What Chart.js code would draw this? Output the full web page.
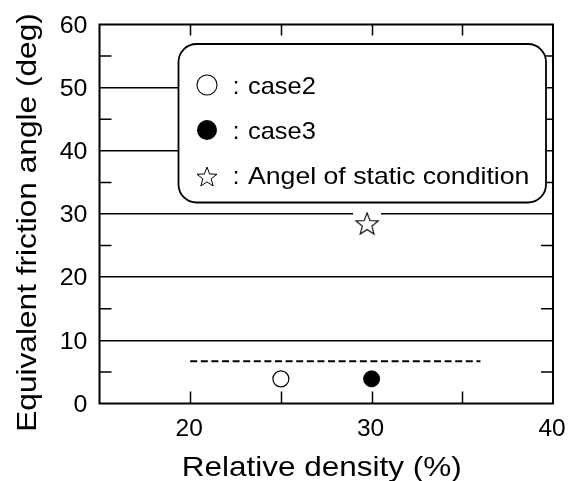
<!DOCTYPE html>
<html>
<head>
<meta charset="utf-8">
<script src="https://cdn.jsdelivr.net/npm/chart.js@4/dist/chart.umd.min.js"></script>
<style>
html,body{margin:0;padding:0;background:#fff;}
#wrap{width:579px;height:481px;}
</style>
</head>
<body>
<div id="wrap"><canvas id="c" width="579" height="481"></canvas></div>
<script>
// ---- data ----
const case2Points = [{x: 25, y: 3.9}];
const case3Points = [{x: 30, y: 3.9}];
const staticPoints = [{x: 29.75, y: 28.4}];
const dashedLine = [{x: 20, y: 6.7}, {x: 36, y: 6.7}];
const seriesLabels = ['case2', 'case3', 'Angel of static condition'];
const xTickLabels = [20, 30, 40];
const yTickLabels = [0, 10, 20, 30, 40, 50, 60];
const xMinorTicks = [20, 25, 30, 35];
const yMinorTicks = [5, 15, 25, 35, 45, 55];
const xTitle = 'Relative density (%)';
const yTitle = 'Equivalent friction angle (deg)';

const FONT = "'Liberation Sans', Arial, Helvetica, sans-serif";

function starPath(ctx, cx, cy, R, r) {
  ctx.beginPath();
  for (let i = 0; i < 10; i++) {
    const rad = (i % 2 === 0) ? R : r;
    const a = -Math.PI / 2 + i * Math.PI / 5;
    const px = cx + rad * Math.cos(a), py = cy + rad * Math.sin(a);
    if (i === 0) ctx.moveTo(px, py); else ctx.lineTo(px, py);
  }
  ctx.closePath();
}

// star marker with white backing (hides the grid line behind it)
const starImg = document.createElement('canvas');
starImg.width = 28; starImg.height = 28;
(function () {
  const g = starImg.getContext('2d');
  g.fillStyle = '#fff';
  g.fillRect(0, 0, 28, 28);
  starPath(g, 14, 14.5, 11.8, 5.0);
  g.lineWidth = 1.1;
  g.strokeStyle = '#000';
  g.stroke();
})();

function stretchedText(ctx, text, x, y, size, sx, align, baseline, rot) {
  ctx.save();
  ctx.translate(x, y);
  if (rot) ctx.rotate(rot);
  ctx.scale(sx, 1);
  ctx.font = size + 'px ' + FONT;
  ctx.fillStyle = '#000';
  ctx.textAlign = align;
  ctx.textBaseline = baseline;
  ctx.fillText(text, 0, 0);
  ctx.restore();
}

const framePlugin = {
  id: 'frame',
  afterDatasetsDraw(chart) {
    const ctx = chart.ctx;
    const a = chart.chartArea;
    const xs = chart.scales.x, ys = chart.scales.y;
    ctx.save();
    ctx.strokeStyle = '#000';
    // minor ticks
    ctx.lineWidth = 1.5;
    ctx.beginPath();
    xMinorTicks.forEach(v => {
      const px = Math.round(xs.getPixelForValue(v)) + 0.5;
      ctx.moveTo(px, a.bottom); ctx.lineTo(px, a.bottom - 12);
      ctx.moveTo(px, a.top); ctx.lineTo(px, a.top + 11);
    });
    yMinorTicks.forEach(v => {
      const py = ys.getPixelForValue(v);
      ctx.moveTo(a.left, py); ctx.lineTo(a.left + 12, py);
      ctx.moveTo(a.right, py); ctx.lineTo(a.right - 12, py);
    });
    ctx.stroke();
    // frame
    ctx.lineWidth = 2;
    ctx.strokeRect(a.left, a.top, a.right - a.left, a.bottom - a.top);

    // legend box
    const bx = 178.5, by = 44, bw = 367.5, bh = 158.5, br = 18;
    ctx.beginPath();
    ctx.roundRect(bx, by, bw, bh, br);
    ctx.fillStyle = '#fff';
    ctx.fill();
    ctx.lineWidth = 1.8;
    ctx.stroke();

    const rows = [93.5, 138.5, 184];
    const mx = 207;
    // markers
    ctx.lineWidth = 1.1;
    ctx.beginPath(); ctx.arc(mx, 85, 10, 0, Math.PI * 2);
    ctx.fillStyle = '#fff'; ctx.fill(); ctx.stroke();
    ctx.beginPath(); ctx.arc(mx, 130, 10, 0, Math.PI * 2);
    ctx.fillStyle = '#000'; ctx.fill();
    starPath(ctx, mx, 177.5, 10.5, 4.4);
    ctx.lineWidth = 1; ctx.stroke();
    const legendDs = chart.data.datasets.filter(d => seriesLabels.includes(d.label));
    legendDs.forEach((d, i) => {
      stretchedText(ctx, ':', 236, rows[i], 24, 1, 'center', 'alphabetic');
      stretchedText(ctx, d.label, 248, rows[i], 24, i === 2 ? 1.11 : 1.06, 'left', 'alphabetic');
    });

    // tick labels
    xTickLabels.forEach(v => {
      stretchedText(ctx, String(v), xs.getPixelForValue(v) - 1, 435.5, 24, 1.02, 'center', 'alphabetic');
    });
    yTickLabels.forEach(v => {
      stretchedText(ctx, String(v), 87.5, ys.getPixelForValue(v) + 8.3, 24, 1.04, 'right', 'alphabetic');
    });
    // axis titles
    stretchedText(ctx, xTitle, 321.7, 476, 28, 1.125, 'center', 'alphabetic');
    stretchedText(ctx, yTitle, 36, 222.5, 28, 1.13, 'center', 'alphabetic', -Math.PI / 2);
    ctx.restore();
  }
};

new Chart(document.getElementById('c'), {
  type: 'scatter',
  data: {
    datasets: [
      {
        type: 'line', label: 'dashed', data: dashedLine,
        borderColor: '#000', borderWidth: 2, borderDash: [7, 3.6],
        pointRadius: 0, fill: false, order: 3
      },
      {
        label: seriesLabels[0], data: case2Points,
        pointStyle: 'circle', pointRadius: 8, pointBackgroundColor: '#fff',
        pointBorderColor: '#000', pointBorderWidth: 1.2, order: 2
      },
      {
        label: seriesLabels[1], data: case3Points,
        pointStyle: 'circle', pointRadius: 8, pointBackgroundColor: '#000',
        pointBorderColor: '#000', pointBorderWidth: 1, order: 2
      },
      {
        label: seriesLabels[2], data: staticPoints,
        pointStyle: starImg, pointRadius: 14, order: 1
      }
    ]
  },
  options: {
    responsive: false,
    animation: false,
    events: [],
    layout: { padding: { left: 99.5, top: 24.5, right: 26, bottom: 77.5 } },
    plugins: { legend: { display: false }, tooltip: { enabled: false } },
    scales: {
      x: {
        type: 'linear', min: 15, max: 40,
        ticks: { display: false, stepSize: 5 },
        grid: { display: false, drawTicks: false },
        border: { display: false }
      },
      y: {
        type: 'linear', min: 0, max: 60,
        ticks: { display: false, stepSize: 5 },
        grid: {
          drawTicks: false, lineWidth: 1.5,
          color: c => (c.tick && c.tick.value % 10 === 0 && c.tick.value > 0 && c.tick.value < 60) ? '#000' : 'rgba(0,0,0,0)'
        },
        border: { display: false }
      }
    }
  },
  plugins: [framePlugin]
});
</script>
</body>
</html>
